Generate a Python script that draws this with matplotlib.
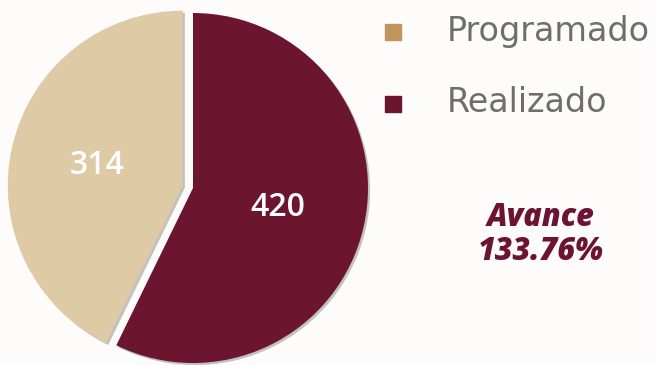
import matplotlib.pyplot as plt
import matplotlib.patheffects as pe

plt.rcParams['font.family'] = ['DejaVu Sans']

# datos
etiquetas = ['Realizado', 'Programado']
valores = [420, 314]
colores_pie = ['#6C152E', '#DECAA4']
colores_leyenda = {'Programado': '#C0955F', 'Realizado': '#6C152E'}
avance = 'Avance\n133.76%'

fig = plt.figure(figsize=(6.55, 3.65), dpi=100)
fig.patch.set_facecolor('#FDFCFA')
ax = fig.add_axes([0, 0, 1, 1])
ax.set_facecolor('none')

sombra = [pe.SimplePatchShadow(offset=(1.5, -1.5), shadow_rgbFace='#555555', alpha=0.35), pe.Normal()]
wedges, textos = ax.pie(valores, colors=colores_pie, startangle=90, counterclock=False,
                        explode=[0, 0.06], radius=1.0,
                        labels=[str(v) for v in valores], labeldistance=0.5,
                        wedgeprops=dict(linewidth=0, path_effects=sombra),
                        textprops=dict(color='white', fontsize=23, fontweight='semibold',
                                       family=['Open Sans', 'DejaVu Sans']))
for t in textos:
    t.set_ha('center')
    t.set_va('center')

# escala: centro en (193, 177) px, radio 175 px
ax.set_xlim(-193 / 175, (655 - 193) / 175)
ax.set_ylim(-177 / 175, 188 / 175)
ax.set_aspect('auto')
ax.axis('off')

# leyenda manual
ley_y = [31, 103]
for nombre, y in zip(['Programado', 'Realizado'], ley_y):
    fy = 1 - y / 365
    fig.patches.append(plt.Rectangle((385 / 655, fy - 9 / 365), 16 / 655, 16 / 365,
                                     transform=fig.transFigure, color=colores_leyenda[nombre]))
    fig.text(447 / 655, fy, nombre, fontsize=24, color='#6E6E6E', va='center', ha='left')

fig.text(541 / 655, 1 - 235 / 365, avance, fontsize=22, color='#6C1233', fontweight=800,
         fontstyle='italic', ha='center', va='center', linespacing=1.1,
         family=['Open Sans', 'DejaVu Sans'])

fig.savefig('out.png', dpi=100, facecolor=fig.get_facecolor())
